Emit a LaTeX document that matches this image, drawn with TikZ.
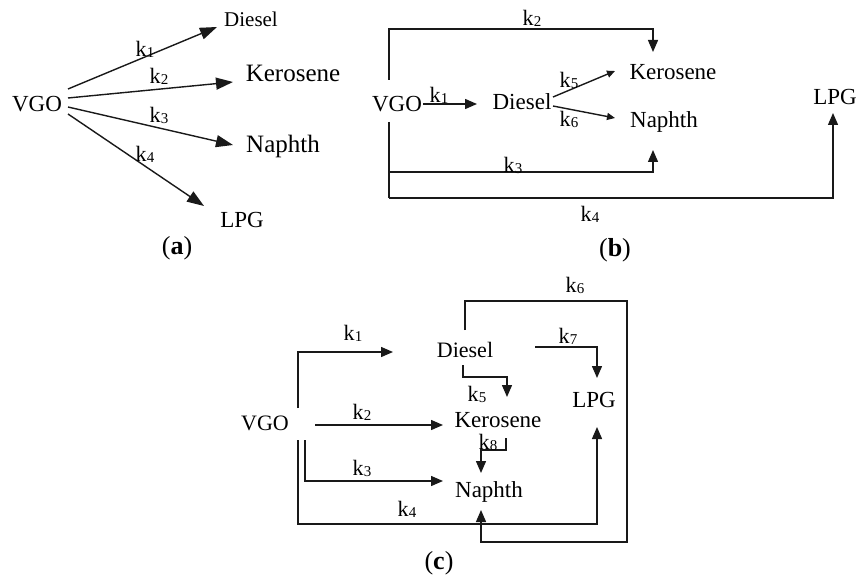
\documentclass[tikz,border=0pt]{standalone}
\usepackage{fontspec}
\setmainfont{Liberation Serif}
\usetikzlibrary{arrows.meta}
\newcommand\kk[1]{k\kern0.3pt{\fontsize{15}{15}\selectfont\raisebox{-1pt}{#1}}}
\newcommand\panellbl[1]{(\textbf{#1})}
\tikzset{
  lbl/.style={anchor=base, inner sep=0pt, font=\fontsize{23}{23}\selectfont},
  klab/.style={anchor=base, inner sep=0pt, font=\fontsize{22}{22}\selectfont},
  plab/.style={anchor=base, inner sep=0pt, font=\fontsize{26}{26}\selectfont},
  conn/.style={line width=1.4pt, draw=black!90},
  arrA/.style={conn, -{Triangle[length=17pt,width=12pt]}},
  arrB/.style={conn, -{Triangle[length=12pt,width=10pt]}},
  arrS/.style={conn, -{Triangle[length=8pt,width=7pt]}}
}
\begin{document}
\begin{tikzpicture}[x=1pt,y=-1pt]
\useasboundingbox (0,0) rectangle (858,580);
% ---------------- panel (a) ----------------
\node[lbl] (vgoa) at (37,112) {VGO};
\node[lbl,font=\fontsize{21}{21}\selectfont] (diea) at (251,27) {Diesel};
\node[lbl,font=\fontsize{25}{25}\selectfont] (kera) at (293,82) {Kerosene};
\node[lbl,font=\fontsize{25}{25}\selectfont] (napa) at (283,153) {Naphth};
\node[lbl] (lpga) at (242,227) {LPG};
\node[plab] (capa) at (177,254) {\panellbl{a}};
\coordinate (a1s) at (68,89);  \coordinate (a1e) at (217,27);
\coordinate (a2s) at (68,98);  \coordinate (a2e) at (233,82);
\coordinate (a3s) at (68,107); \coordinate (a3e) at (233,145);
\coordinate (a4s) at (68,114); \coordinate (a4e) at (204,206);
\draw[arrA] (a1s) -- (a1e);
\draw[arrA] (a2s) -- (a2e);
\draw[arrA] (a3s) -- (a3e);
\draw[arrA] (a4s) -- (a4e);
\node[klab] (ka1) at (145,57) {\kk{1}};
\node[klab] (ka2) at (159,84) {\kk{2}};
\node[klab] (ka3) at (159,123) {\kk{3}};
\node[klab] (ka4) at (145,161) {\kk{4}};
% ---------------- panel (b) ----------------
\node[lbl] (vgob) at (397,112) {VGO};
\node[lbl] (dieb) at (522,110) {Diesel};
\node[lbl] (kerb) at (673,80) {Kerosene};
\node[lbl] (napb) at (664,128) {Naphth};
\node[lbl] (lpgb) at (835,105) {LPG};
\node[plab] (capb) at (615,256) {\panellbl{b}};
\coordinate (b2s) at (389,80);  \coordinate (b2e) at (653,52);
\coordinate (b1s) at (423,104); \coordinate (b1e) at (477,104);
\coordinate (b5s) at (553,97);  \coordinate (b5e) at (615,71);
\coordinate (b6s) at (553,106); \coordinate (b6e) at (615,118);
\coordinate (b3s) at (389,122); \coordinate (b3e) at (653,150);
\coordinate (b4e) at (833,113);
\draw[arrB] (b2s) -- (389,29) -| (b2e);
\draw[arrB] (b1s) -- (b1e);
\draw[arrS] (b5s) -- (b5e);
\draw[arrS] (b6s) -- (b6e);
\draw[conn] (b3s) -- (389,198);
\draw[arrB] (389,172) -| (b3e);
\draw[arrB] (389,198) -| (b4e);
\node[klab] (kb2) at (532,26) {\kk{2}};
\node[klab] (kb1) at (439,103) {\kk{1}};
\node[klab] (kb5) at (569,88) {\kk{5}};
\node[klab] (kb6) at (569,127) {\kk{6}};
\node[klab] (kb3) at (513,172) {\kk{3}};
\node[klab] (kb4) at (590,221) {\kk{4}};
% ---------------- panel (c) ----------------
\node[lbl,font=\fontsize{22}{22}\selectfont] (vgoc) at (265,430) {VGO};
\node[lbl,font=\fontsize{22}{22}\selectfont] (diec) at (465,357) {Diesel};
\node[lbl] (kerc) at (498,427) {Kerosene};
\node[lbl] (napc) at (489,497) {Naphth};
\node[lbl] (lpgc) at (594,407) {LPG};
\node[plab] (capc) at (439,569) {\panellbl{c}};
\coordinate (c1s) at (298,408); \coordinate (c1e) at (393,352);
\coordinate (c2s) at (315,425); \coordinate (c2e) at (443,425);
\coordinate (c3s) at (305,440); \coordinate (c3e) at (443,481);
\coordinate (c4s) at (298,440); \coordinate (c4e) at (597,427);
\coordinate (c6s) at (465,330); \coordinate (c6e) at (481,510);
\coordinate (c7s) at (535,347); \coordinate (c7e) at (597,378);
\coordinate (c5s) at (463,365); \coordinate (c5e) at (507,397);
\coordinate (c8s) at (506,438); \coordinate (c8e) at (481,473);
\draw[arrB] (c1s) |- (c1e);
\draw[arrB] (c2s) -- (c2e);
\draw[arrB] (c3s) |- (c3e);
\draw[arrB] (c4s) -- (298,524) -| (c4e);
\draw[arrB] (c6s) -- (465,301) -- (627,301) -- (627,542) -| (c6e);
\draw[arrB] (c7s) -| (c7e);
\draw[arrB] (c5s) -- (463,377) -| (c5e);
\draw[arrB] (c8s) -- (506,450) -| (c8e);
\node[klab] (kc6) at (575,292) {\kk{6}};
\node[klab] (kc1) at (353,340) {\kk{1}};
\node[klab] (kc7) at (568,343) {\kk{7}};
\node[klab] (kc5) at (477,401) {\kk{5}};
\node[klab] (kc2) at (362,419) {\kk{2}};
\node[klab] (kc8) at (488,449) {\kk{8}};
\node[klab] (kc3) at (362,475) {\kk{3}};
\node[klab] (kc4) at (407,516) {\kk{4}};
\end{tikzpicture}
\end{document}
